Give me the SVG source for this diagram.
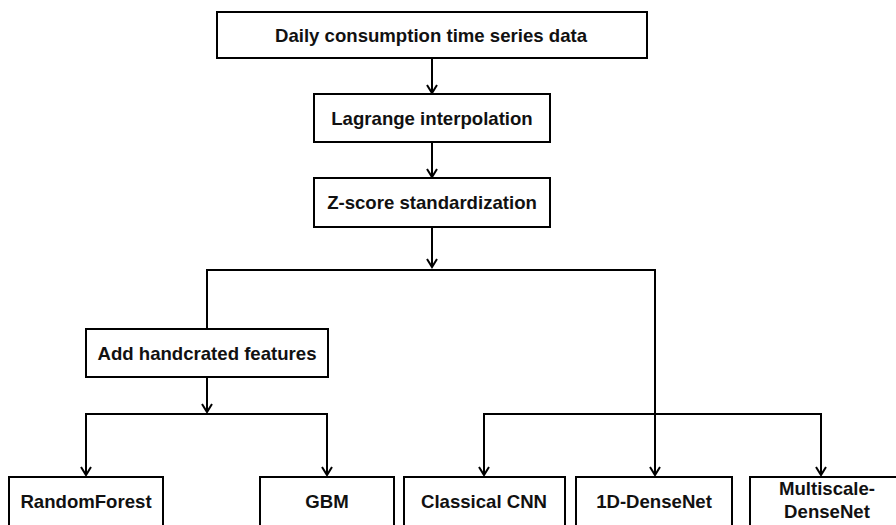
<svg xmlns="http://www.w3.org/2000/svg" width="896" height="525" viewBox="0 0 896 525">
<style>
.box{fill:#fff;stroke:#000;stroke-width:2}
.t{font-family:"Liberation Sans",Arial,sans-serif;font-weight:bold;font-size:18.6px;fill:#111;text-anchor:middle;dominant-baseline:central}
.c{fill:none;stroke:#000;stroke-width:2}
</style>
<defs>
<marker id="ah" markerWidth="12" markerHeight="12" viewBox="0 0 12 12" refX="10" refY="6" orient="auto" markerUnits="userSpaceOnUse">
<polyline points="2,1 10,6 2,11" fill="none" stroke="#000" stroke-width="2"/>
</marker>
</defs>
<rect width="896" height="525" fill="#fff"/>
<g id="connectors">
<line class="c" x1="432" y1="58" x2="432" y2="93" marker-end="url(#ah)"/>
<line class="c" x1="432" y1="142" x2="432" y2="177" marker-end="url(#ah)"/>
<line class="c" x1="432" y1="227" x2="432" y2="267" marker-end="url(#ah)"/>
<polyline class="c" points="207,329 207,270 655,270 655,414"/>
<line class="c" x1="207" y1="377" x2="207" y2="412" marker-end="url(#ah)"/>
<polyline class="c" points="86,474 86,414 327,414 327,474"/>
<line class="c" x1="86" y1="440" x2="86" y2="475" marker-end="url(#ah)"/>
<line class="c" x1="327" y1="440" x2="327" y2="475" marker-end="url(#ah)"/>
<polyline class="c" points="484,474 484,414 821,414 821,474"/>
<line class="c" x1="484" y1="440" x2="484" y2="475" marker-end="url(#ah)"/>
<line class="c" x1="655" y1="414" x2="655" y2="475" marker-end="url(#ah)"/>
<line class="c" x1="821" y1="440" x2="821" y2="475" marker-end="url(#ah)"/>
</g>
<g id="n1"><rect class="box" x="217" y="12" width="430" height="46"/><text class="t" x="431" y="35">Daily consumption time series data</text></g>
<g id="n2"><rect class="box" x="314" y="94" width="236" height="48"/><text class="t" x="432" y="118">Lagrange interpolation</text></g>
<g id="n3"><rect class="box" x="314" y="178" width="236" height="49"/><text class="t" x="432" y="202">Z-score standardization</text></g>
<g id="n4"><rect class="box" x="86" y="329" width="242" height="48"/><text class="t" x="207" y="353">Add handcrated features</text></g>
<g id="n5"><rect class="box" x="9" y="477" width="154" height="60"/><text class="t" x="86" y="501">RandomForest</text></g>
<g id="n6"><rect class="box" x="260" y="477" width="134" height="60"/><text class="t" x="327" y="501">GBM</text></g>
<g id="n7"><rect class="box" x="404" y="477" width="161" height="60"/><text class="t" x="484" y="501">Classical CNN</text></g>
<g id="n8"><rect class="box" x="576" y="477" width="156" height="60"/><text class="t" x="654" y="501">1D-DenseNet</text></g>
<g id="n9"><rect class="box" x="750" y="477" width="160" height="60"/><text class="t" x="827" y="488">Multiscale-</text><text class="t" x="827" y="511">DenseNet</text></g>
</svg>
